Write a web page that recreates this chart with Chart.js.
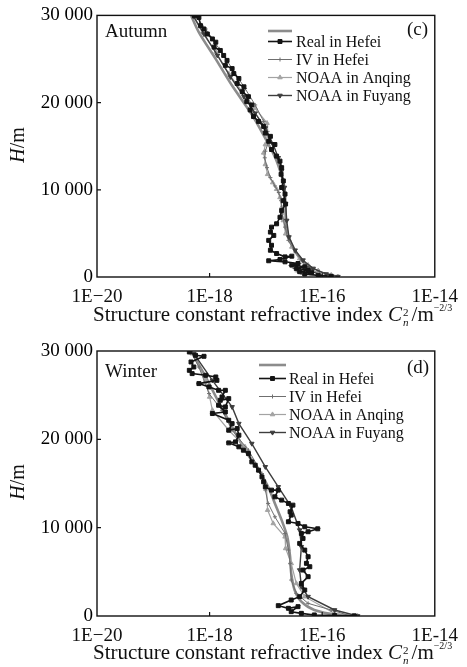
<!DOCTYPE html>
<html>
<head>
<meta charset="utf-8">
<title>Cn2 profiles</title>
<script src="https://cdn.jsdelivr.net/npm/chart.js@4.4.1/dist/chart.umd.min.js"></script>
<style>
  html, body { margin: 0; padding: 0; background: #fff; }
  body { position: relative; width: 467px; height: 667px; overflow: hidden; font-family: 'Liberation Serif', 'Times New Roman', serif; color: #111; }
  canvas { position: absolute; left: 0; }
  .lbl { position: absolute; font-size: 19px; line-height: 19px; white-space: nowrap; }
  .xtitle { position: absolute; left: 93px; font-size: 21px; line-height: 21px; white-space: nowrap; }
  .ytitle { position: absolute; font-size: 20px; line-height: 20px; white-space: nowrap; transform: translate(-50%, -50%) rotate(-90deg); }
  .ss { display: inline-block; vertical-align: -5px; font-size: 11px; line-height: 10px; margin: 0 3px 0 1px; }
  .ss span { display: block; }
  .ex { font-size: 10px; line-height: 0; vertical-align: 10px; }
</style>
</head>
<body>
<canvas id="autumn-chart" width="467" height="325" style="top:0"></canvas>
<canvas id="winter-chart" width="467" height="337" style="top:330px"></canvas>

<div class="lbl" style="left:105px;top:21px">Autumn</div>
<div class="lbl" style="left:407px;top:19px">(c)</div>
<div class="ytitle" style="left:17px;top:145px"><i>H</i>/m</div>
<div class="xtitle" style="top:304px">Structure constant refractive index <i>C</i><span class="ss"><span>2</span><span><i>n</i></span></span>/m<span class="ex">&minus;2/3</span></div>

<div class="lbl" style="left:105px;top:361px">Winter</div>
<div class="lbl" style="left:407px;top:357px">(d)</div>
<div class="ytitle" style="left:17px;top:482px"><i>H</i>/m</div>
<div class="xtitle" style="top:642px">Structure constant refractive index <i>C</i><span class="ss"><span>2</span><span><i>n</i></span></span>/m<span class="ex">&minus;2/3</span></div>

<script>
// axis ticks
const xTickValues = [1e-20, 1e-18, 1e-16, 1e-14];
const xTickLabels = ['1E\u221220', '1E-18', '1E-16', '1E-14'];
const yTickLabels = ['0', '10 000', '20 000', '30 000'];

const seriesNames = ['', 'Real in Hefei', 'IV in Hefei', 'NOAA in Anqing', 'NOAA in Fuyang'];

// (c) Autumn - height in m, log10 of Cn2
const autumnSmoothH = [30000, 28060, 24990, 22040, 18630, 15900, 13630, 11810, 10220, 7950, 5680, 3860, 1930, 570, 0];
const autumnSmoothLogC = [-18.33, -18.19, -17.89, -17.61, -17.25, -17.01, -16.83, -16.73, -16.67, -16.65, -16.64, -16.55, -16.37, -16.13, -15.95];

const autumnRealH = [29950, 29770, 28820, 28440, 27870, 27300, 26930, 26360, 25980, 25410,
  24840, 24270, 23900, 23330, 22760, 22190, 21810, 21250, 20680, 20110,
  19730, 19160, 18400, 17840, 17270, 16510, 16130, 15560, 15190, 14620,
  13860, 13290, 12540, 11780, 11020, 10260, 9510, 8750, 8370, 7610,
  6850, 6100, 5720, 5150, 4770, 4200, 3640, 3070, 2690, 2310,
  2390, 2010, 1860, 1740, 1550, 1360, 1170, 980, 800, 610,
  490, 340, 190, 80];
const autumnRealLogC = [-18.27, -18.19, -18.16, -18.10, -18.04, -17.95, -17.89, -17.92, -17.81, -17.75,
  -17.69, -17.72, -17.60, -17.57, -17.48, -17.51, -17.39, -17.42, -17.31, -17.34,
  -17.25, -17.28, -17.22, -17.13, -17.04, -17.01, -16.92, -16.95, -16.84, -16.90,
  -16.81, -16.75, -16.72, -16.73, -16.69, -16.72, -16.66, -16.69, -16.65, -16.72,
  -16.75, -16.81, -16.90, -16.92, -16.86, -16.95, -16.90, -16.92, -16.81, -16.66,
  -16.54, -16.75, -16.95, -16.66, -16.43, -16.54, -16.31, -16.46, -16.25, -16.40,
  -16.19, -16.31, -16.07, -15.84];

const autumnIvH = [29950, 28440, 26170, 23900, 21620, 19730, 17840, 16700, 15560, 14430, 13670, 12540, 11400, 10450, 9690, 8750, 7230, 5720, 4200, 2880, 1930, 1170, 610, 110];
const autumnIvLogC = [-18.25, -18.07, -17.83, -17.60, -17.37, -17.19, -17.04, -16.97, -16.95, -17.01, -17.02, -16.98, -16.92, -16.84, -16.77, -16.73, -16.71, -16.66, -16.60, -16.48, -16.37, -16.22, -16.05, -15.72];

const autumnAnqingH = [30000, 28060, 25790, 23330, 21250, 19350, 17650, 16320, 15190, 14240, 12910, 11780, 10830, 10070, 9130, 7990, 6480, 4960, 3450, 2120, 1360, 720, 230];
const autumnAnqingLogC = [-18.30, -18.13, -17.89, -17.66, -17.42, -17.19, -16.98, -16.97, -17.01, -17.04, -17.01, -16.97, -16.88, -16.81, -16.75, -16.72, -16.69, -16.65, -16.54, -16.40, -16.25, -16.07, -15.84];

const autumnFuyangH = [29950, 27870, 25410, 22950, 20680, 18780, 17080, 15190, 13670, 12160, 10260, 8370, 6480, 4580, 3070, 1930, 980, 340, 40];
const autumnFuyangLogC = [-18.29, -18.10, -17.86, -17.63, -17.39, -17.19, -17.01, -16.87, -16.78, -16.72, -16.67, -16.65, -16.63, -16.59, -16.48, -16.34, -16.16, -15.93, -15.72];

// (d) Winter
const winterSmoothH = [29780, 27060, 24230, 21410, 18770, 16510, 14620, 12740, 10850, 8970, 6710, 4820, 2940, 1620, 680, 110, 0];
const winterSmoothLogC = [-18.31, -18.07, -17.84, -17.60, -17.37, -17.13, -16.96, -16.84, -16.72, -16.62, -16.57, -16.55, -16.49, -16.37, -16.14, -15.72, -15.37];

const winterRealH = [29890, 29510, 29400, 28760, 28190, 27810, 27440, 27250, 27060, 26680,
  26310, 25930, 25550, 25550, 24800, 24420, 24610, 23670, 23860, 23100,
  22920, 22160, 21780, 21030, 21220, 20470, 19710, 19600, 19150, 18770,
  18390, 17450, 17070, 16510, 15750, 15190, 14620, 14250, 14250, 13490,
  13120, 12740, 12550, 11800, 11420, 10670, 10480, 10100, 9870, 9540,
  9350, 8780, 8220, 7460, 6710, 5960, 5580, 5200, 4450, 3690,
  2940, 2190, 1810, 1170, 870, 1060, 490, 300, 120, 60,
  20];
const winterRealLogC = [-18.36, -18.25, -18.10, -18.33, -18.28, -18.36, -18.31, -18.07, -17.89, -17.87,
  -18.19, -18.01, -17.84, -17.72, -17.78, -17.81, -17.66, -17.72, -17.84, -17.72,
  -17.95, -17.66, -17.60, -17.66, -17.51, -17.48, -17.54, -17.66, -17.48, -17.40,
  -17.31, -17.25, -17.19, -17.13, -17.07, -17.04, -17.01, -16.90, -16.78, -16.84,
  -16.72, -16.60, -16.52, -16.57, -16.55, -16.60, -16.43, -16.31, -16.08, -16.25,
  -16.37, -16.34, -16.40, -16.31, -16.25, -16.28, -16.22, -16.34, -16.25, -16.37,
  -16.31, -16.40, -16.55, -16.78, -16.60, -16.43, -16.55, -16.37, -16.14, -15.78,
  -15.43];

const winterIvH = [29890, 28190, 25180, 23290, 21030, 18770, 16130, 14250, 12740, 11230, 9350, 7460, 5960, 4070, 2560, 1430, 680, 0];
const winterIvLogC = [-18.33, -18.19, -18.01, -17.78, -17.60, -17.31, -17.07, -17.01, -16.96, -16.84, -16.66, -16.60, -16.57, -16.55, -16.46, -16.25, -15.84, -15.49];

const winterAnqingH = [29700, 26680, 24800, 23290, 21030, 19150, 16510, 14620, 11990, 10480, 8970, 7650, 5960, 3690, 2190, 300, 0];
const winterAnqingLogC = [-18.31, -18.07, -18.00, -17.95, -17.66, -17.37, -17.13, -16.99, -16.97, -16.87, -16.66, -16.65, -16.55, -16.46, -16.31, -15.78, -15.37];

const winterFuyangH = [29700, 26680, 23670, 21780, 19520, 16890, 14620, 12360, 9720, 7840, 5200, 3320, 2190, 680, 0];
const winterFuyangLogC = [-18.28, -17.95, -17.60, -17.48, -17.25, -17.01, -16.78, -16.55, -16.40, -16.37, -16.40, -16.37, -16.25, -15.78, -15.37];

// line look per series (same order as seriesNames)
const seriesStyles = [
    { color: '#8c8c8c', width: 2.6, point: 'circle', radius: 0, tension: 0.3, order: 3 },
    { color: '#141414', width: 1.6, point: 'rect', radius: 2.8, tension: 0, order: 0 },
    { color: '#6f6f6f', width: 1, point: 'cross', radius: 2, tension: 0, order: 2 },
    { color: '#a3a3a3', width: 1.2, point: 'triangle', radius: 2.6, tension: 0, order: 2 },
    { color: '#3d3d3d', width: 1.4, point: 'triangle', rotation: 180, radius: 2.6, tension: 0, order: 1 }
];

function toPoints(heights, logC) {
    return heights.map((h, i) => ({ x: Math.pow(10, logC[i]), y: h }));
}

function makeDatasets(series) {
    return series.map((s, i) => {
        const st = seriesStyles[i];
        return {
            label: seriesNames[i],
            data: toPoints(s[0], s[1]),
            showLine: true,
            borderColor: st.color,
            backgroundColor: st.color,
            borderWidth: st.width,
            pointStyle: st.point,
            pointRadius: st.radius,
            pointRotation: st.rotation || 0,
            pointBorderWidth: 1,
            tension: st.tension,
            order: st.order
        };
    });
}

// box round the plot and short inward ticks
const frameTicks = {
    id: 'frameTicks',
    afterDraw(chart) {
        const { ctx, chartArea: a, scales } = chart;
        ctx.save();
        ctx.strokeStyle = '#111';
        ctx.lineWidth = 1.4;
        ctx.strokeRect(a.left, a.top, a.right - a.left, a.bottom - a.top);
        ctx.lineWidth = 1.2;
        ctx.beginPath();
        scales.x.ticks.forEach(t => {
            const px = scales.x.getPixelForValue(t.value);
            if (px > a.left + 2 && px < a.right - 2) { ctx.moveTo(px, a.bottom); ctx.lineTo(px, a.bottom - 4); }
        });
        scales.y.ticks.forEach(t => {
            const py = scales.y.getPixelForValue(t.value);
            if (py > a.top + 2 && py < a.bottom - 2) { ctx.moveTo(a.left, py); ctx.lineTo(a.left + 4, py); }
        });
        ctx.stroke();
        ctx.restore();
    }
};

// legend inside the plot, drawn from the dataset styles
const legendBox = {
    id: 'legendBox',
    afterDatasetsDraw(chart, args, opts) {
        const ctx = chart.ctx;
        ctx.save();
        chart.data.datasets.forEach((ds, i) => {
            const y = opts.rows[i];
            ctx.strokeStyle = ds.borderColor;
            ctx.lineWidth = ds.borderWidth;
            ctx.beginPath();
            ctx.moveTo(opts.x1, y);
            ctx.lineTo(opts.x2, y);
            ctx.stroke();
            if (ds.pointRadius > 0) {
                ctx.fillStyle = ds.backgroundColor;
                ctx.lineWidth = 1;
                Chart.helpers.drawPoint(ctx, {
                    pointStyle: ds.pointStyle, radius: ds.pointRadius,
                    rotation: ds.pointRotation, borderWidth: 1
                }, (opts.x1 + opts.x2) / 2, y);
            }
            if (ds.label) {
                ctx.fillStyle = '#111';
                ctx.font = '16px "Liberation Serif"';
                ctx.textBaseline = 'middle';
                ctx.fillText(ds.label, opts.textX, y + 1);
            }
        });
        ctx.restore();
    }
};

function buildChart(canvasId, series, cfg) {
    const ctx = document.getElementById(canvasId).getContext('2d');
    return new Chart(ctx, {
        type: 'scatter',
        data: { datasets: makeDatasets(series) },
        options: {
            responsive: false,
            animation: false,
            layout: { padding: { top: cfg.padTop, right: 29, left: 0, bottom: 0 } },
            plugins: {
                legend: { display: false },
                tooltip: { enabled: false },
                legendBox: cfg.legend
            },
            scales: {
                x: {
                    type: 'logarithmic',
                    min: 1e-20,
                    max: 1e-14,
                    afterBuildTicks: s => { s.ticks = xTickValues.map(v => ({ value: v })); },
                    afterFit: s => { s.height = cfg.xAxisHeight; },
                    grid: { display: false, drawTicks: false },
                    border: { display: false },
                    ticks: {
                        autoSkip: false,
                        maxRotation: 0,
                        padding: cfg.xPad,
                        color: '#111',
                        font: { family: 'Liberation Serif', size: 19 },
                        callback: (v, i) => xTickLabels[i]
                    }
                },
                y: {
                    type: 'linear',
                    min: 0,
                    max: 30000,
                    afterFit: s => { s.width = 97; },
                    grid: { display: false, drawTicks: false },
                    border: { display: false },
                    ticks: {
                        stepSize: 10000,
                        padding: 4,
                        color: '#000',
                        font: { family: 'Liberation Serif', size: 19 },
                        callback: (v, i) => yTickLabels[i]
                    }
                }
            }
        },
        plugins: [frameTicks, legendBox]
    });
}

buildChart('autumn-chart', [
    [autumnSmoothH, autumnSmoothLogC],
    [autumnRealH, autumnRealLogC],
    [autumnIvH, autumnIvLogC],
    [autumnAnqingH, autumnAnqingLogC],
    [autumnFuyangH, autumnFuyangLogC]
], {
    padTop: 12, xAxisHeight: 48, xPad: 9,
    legend: { x1: 268, x2: 292, textX: 296, rows: [31, 41.5, 59.5, 77.5, 95.5] }
});

buildChart('winter-chart', [
    [winterSmoothH, winterSmoothLogC],
    [winterRealH, winterRealLogC],
    [winterIvH, winterIvLogC],
    [winterAnqingH, winterAnqingLogC],
    [winterFuyangH, winterFuyangLogC]
], {
    padTop: 21, xAxisHeight: 51, xPad: 9,
    legend: { x1: 259, x2: 286, textX: 289, rows: [35, 48.5, 66.5, 84.5, 102.5] }
});
</script>
</body>
</html>
